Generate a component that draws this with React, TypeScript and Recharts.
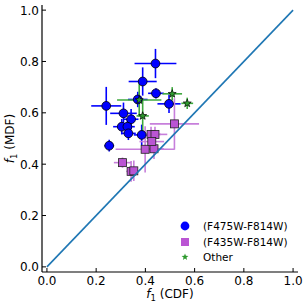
import React from 'react';
import { ScatterChart, Scatter, XAxis, YAxis, ErrorBar } from 'recharts';

// f1 values: CDF (x) vs MDF (y)
const blueX = [0.441, 0.389, 0.443, 0.369, 0.241, 0.496, 0.311, 0.342, 0.304, 0.327, 0.331, 0.385, 0.253];
const blueY = [0.792, 0.722, 0.676, 0.652, 0.627, 0.635, 0.598, 0.575, 0.546, 0.546, 0.52, 0.514, 0.472];
const blueXErr = [0.085, 0.057, 0.032, 0.04, 0.061, 0.047, 0.054, 0.03, 0.035, 0.03, 0.03, 0.032, 0.02];
const blueYErr = [0.057, 0.055, 0.02, 0.03, 0.074, 0.036, 0.042, 0.04, 0.03, 0.03, 0.026, 0.04, 0.023];

const purpleX = [0.518, 0.399, 0.435, 0.423, 0.439, 0.426, 0.307, 0.342, 0.353];
const purpleY = [0.557, 0.458, 0.46, 0.516, 0.516, 0.488, 0.406, 0.372, 0.374];
const purpleXErr = [0.1, 0.12, 0.04, 0.04, 0.05, 0.05, 0.035, 0.02, 0.02];
const purpleYErr = [0.1, 0.09, 0.04, 0.03, 0.03, 0.035, 0.02, 0.04, 0.04];

const greenX = [0.375, 0.389, 0.509, 0.57];
const greenY = [0.65, 0.588, 0.674, 0.637];
const greenXErr = [0.09, 0.025, 0.04, 0.024];
const greenYErr = [0.065, 0.065, 0.026, 0.022];

const diagX = [0, 1];
const diagY = [0, 1];

const ticks = [0, 0.2, 0.4, 0.6, 0.8, 1.0];
const legendLabels = ['(F475W-F814W)', '(F435W-F814W)', 'Other'];

const BLUE = '#0000ff';
const PURPLE = '#ba55d3';
const PURPLE_ERR = '#c77fdb';
const GREEN = '#2e9a2e';
const GREEN_ERR = '#3ca83c';
const FONT = '"DejaVu Sans", sans-serif';

const build = (xs: number[], ys: number[], exs: number[], eys: number[]) =>
  xs.map((x, i) => ({ x, y: ys[i], ex: exs[i], ey: eys[i] }));

const blueData = build(blueX, blueY, blueXErr, blueYErr);
const purpleData = build(purpleX, purpleY, purpleXErr, purpleYErr);
const greenData = build(greenX, greenY, greenXErr, greenYErr);
const diagData = diagX.map((x, i) => ({ x, y: diagY[i] }));

function starPoints(cx: number, cy: number, r: number) {
  const pts: string[] = [];
  for (let i = 0; i < 10; i++) {
    const rad = i % 2 === 0 ? r : r * 0.42;
    const a = -Math.PI / 2 + (i * Math.PI) / 5;
    pts.push(`${cx + rad * Math.cos(a)},${cy + rad * Math.sin(a)}`);
  }
  return pts.join(' ');
}

const CircleShape = (p: any) => (
  <circle cx={p.cx} cy={p.cy} r={4.4} fill={BLUE} stroke="#000" strokeWidth={0.8} />
);
const SquareShape = (p: any) => (
  <rect x={p.cx - 4} y={p.cy - 4} width={8} height={8} fill={PURPLE} stroke="#222" strokeWidth={0.8} />
);
const StarShape = (p: any) => (
  <polygon points={starPoints(p.cx, p.cy, 4.2)} fill={GREEN} stroke="#000" strokeWidth={0.7} />
);
const NoShape = () => <g />;

const tickStyle = { fontSize: 12, fontFamily: FONT, fill: '#000' };

const BottomTick = (p: any) => (
  <g>
    <line x1={p.x} x2={p.x} y1={p.y} y2={p.y - 4} stroke="#000" strokeWidth={1} />
    <text x={p.x} y={p.y + 13} textAnchor="middle" {...tickStyle}>
      {Number(p.payload.value).toFixed(1)}
    </text>
  </g>
);
const LeftTick = (p: any) => (
  <g>
    <line x1={p.x} x2={p.x + 4} y1={p.y} y2={p.y} stroke="#000" strokeWidth={1} />
    <text x={p.x - 3} y={p.y + 4.5} textAnchor="end" {...tickStyle}>
      {Number(p.payload.value).toFixed(1)}
    </text>
  </g>
);
const TopTick = (p: any) => (
  <line x1={p.x} x2={p.x} y1={p.y} y2={p.y + 4} stroke="#000" strokeWidth={1} />
);
const RightTick = (p: any) => (
  <line x1={p.x} x2={p.x - 4} y1={p.y} y2={p.y} stroke="#000" strokeWidth={1} />
);

const XLabel = (p: any) => {
  const vb = p.viewBox;
  const cx = vb.x + vb.width / 2;
  return (
    <text x={cx} y={298} textAnchor="middle" fontSize={12} fontFamily={FONT} fill="#000">
      <tspan fontStyle="italic">f</tspan>
      <tspan fontSize={8.5} dy={3}>1</tspan>
      <tspan dy={-3}> (CDF)</tspan>
    </text>
  );
};
const YLabel = (p: any) => {
  const vb = p.viewBox;
  const cy = vb.y + vb.height / 2;
  return (
    <text
      x={14}
      y={cy}
      transform={`rotate(-90, 14, ${cy})`}
      textAnchor="middle"
      fontSize={12}
      fontFamily={FONT}
      fill="#000"
    >
      <tspan fontStyle="italic">f</tspan>
      <tspan fontSize={8.5} dy={3}>1</tspan>
      <tspan dy={-3}> (MDF)</tspan>
    </text>
  );
};

const axisLine = { stroke: '#000', strokeWidth: 1.2 };

export default function App() {
  return (
    <div style={{ position: 'absolute', left: 0, top: 0, width: 308, height: 307 }}>
      <ScatterChart width={308} height={307} margin={{ top: 5, right: 10, bottom: 0, left: 0 }}>
        <XAxis
          type="number"
          dataKey="x"
          domain={[-0.02, 1.02]}
          allowDataOverflow
          ticks={ticks}
          height={35}
          tickSize={0}
          tickMargin={0}
          tickLine={false}
          axisLine={axisLine}
          tick={<BottomTick />}
          label={<XLabel />}
        />
        <XAxis
          xAxisId="top"
          orientation="top"
          type="number"
          dataKey="x"
          domain={[-0.02, 1.02]}
          allowDataOverflow
          ticks={ticks}
          height={0}
          tickSize={0}
          tickMargin={0}
          tickLine={false}
          axisLine={axisLine}
          tick={<TopTick />}
        />
        <YAxis
          type="number"
          dataKey="y"
          domain={[-0.02, 1.02]}
          allowDataOverflow
          ticks={ticks}
          width={42}
          tickSize={0}
          tickMargin={0}
          tickLine={false}
          axisLine={axisLine}
          tick={<LeftTick />}
          label={<YLabel />}
        />
        <YAxis
          yAxisId="right"
          orientation="right"
          type="number"
          dataKey="y"
          domain={[-0.02, 1.02]}
          allowDataOverflow
          ticks={ticks}
          width={0}
          tickSize={0}
          tickMargin={0}
          tickLine={false}
          axisLine={axisLine}
          tick={<RightTick />}
        />
        <Scatter data={blueData} shape={<CircleShape />} isAnimationActive={false}>
          <ErrorBar dataKey="ex" direction="x" width={0} stroke={BLUE} strokeWidth={1.6} />
          <ErrorBar dataKey="ey" direction="y" width={0} stroke={BLUE} strokeWidth={1.6} />
        </Scatter>
        <Scatter data={purpleData} shape={<SquareShape />} isAnimationActive={false}>
          <ErrorBar dataKey="ex" direction="x" width={0} stroke={PURPLE_ERR} strokeWidth={1.6} />
          <ErrorBar dataKey="ey" direction="y" width={0} stroke={PURPLE_ERR} strokeWidth={1.6} />
        </Scatter>
        <Scatter data={greenData} shape={<StarShape />} isAnimationActive={false}>
          <ErrorBar dataKey="ex" direction="x" width={0} stroke={GREEN_ERR} strokeWidth={1.6} />
          <ErrorBar dataKey="ey" direction="y" width={0} stroke={GREEN_ERR} strokeWidth={1.6} />
        </Scatter>
        <Scatter
          data={diagData}
          shape={<NoShape />}
          line={{ stroke: '#1f77b4', strokeWidth: 1.6 }}
          isAnimationActive={false}
        />
      </ScatterChart>
      <svg
        width={308}
        height={307}
        style={{ position: 'absolute', left: 0, top: 0, pointerEvents: 'none' }}
      >
        <circle cx={185} cy={226} r={4.4} fill={BLUE} />
        <rect x={181} y={238} width={8} height={8} fill={PURPLE} />
        <polygon points={starPoints(185, 257, 3.6)} fill={GREEN} />
        {legendLabels.map((label, i) => (
          <text key={label} x={203} y={230 + i * 15.5} fontSize={10.5} fontFamily={FONT} fill="#000">
            {label}
          </text>
        ))}
      </svg>
    </div>
  );
}
